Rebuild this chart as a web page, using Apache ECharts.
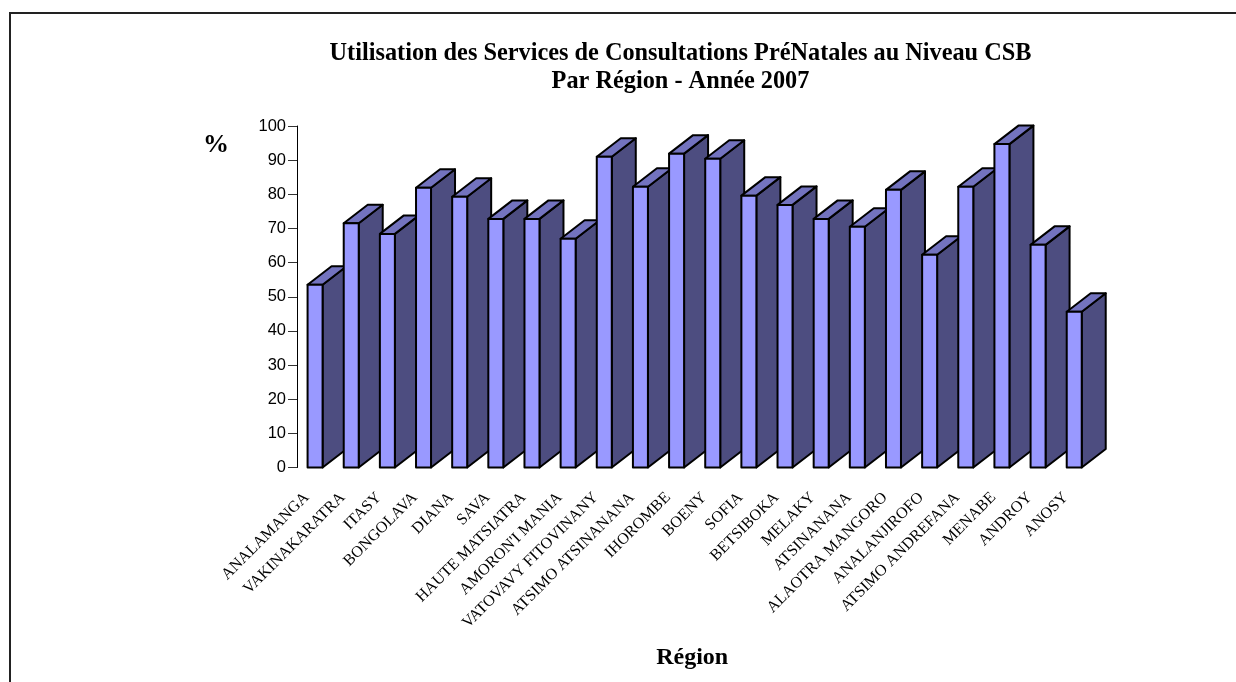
<!DOCTYPE html>
<html><head><meta charset="utf-8">
<style>html,body{margin:0;padding:0;background:#fff}#c{width:1236px;height:682px}</style>
<script src="https://cdn.jsdelivr.net/npm/echarts@6/dist/echarts.min.js"></script>
</head><body><div id="c"></div>
<script>
const regions = ["ANALAMANGA","VAKINAKARATRA","ITASY","BONGOLAVA","DIANA","SAVA","HAUTE MATSIATRA","AMORON'I MANIA","VATOVAVY FITOVINANY","ATSIMO ATSINANANA","IHOROMBE","BOENY","SOFIA","BETSIBOKA","MELAKY","ATSINANANA","ALAOTRA MANGORO","ANALANJIROFO","ATSIMO ANDREFANA","MENABE","ANDROY","ANOSY"];
const values = [53.5,71.5,68.4,81.9,79.3,72.8,72.8,67,91,82.2,91.9,90.4,79.6,76.9,72.8,70.5,81.3,62.3,82.2,94.7,65.2,45.6];
const serif = '"Liberation Serif","Times New Roman",serif';
const sans = '"Liberation Sans",Arial,sans-serif';
const depthX = 24, depthY = 18.5, barW = 15;
function renderBar(params, api){
  const p = api.coord([api.value(0), api.value(1)]);
  const base = api.coord([api.value(0), 0]);
  const l = p[0]-barW/2, r = p[0]+barW/2, t = p[1], b = base[1];
  const st = (fill)=>({fill, stroke:'#000', lineWidth:2, lineJoin:'round'});
  return {type:'group', children:[
    {type:'polygon', shape:{points:[[r,t],[r+depthX,t-depthY],[r+depthX,b-depthY],[r,b]]}, style:st('#4d4d80')},
    {type:'polygon', shape:{points:[[l,t],[l+depthX,t-depthY],[r+depthX,t-depthY],[r,t]]}, style:st('#7373bf')},
    {type:'rect', shape:{x:l,y:t,width:barW,height:b-t}, style:st('#9999ff')}
  ]};
}
const chart = echarts.init(document.getElementById('c'), null, {renderer:'canvas'});
chart.setOption({
  animation:false,
  backgroundColor:'#fff',
  graphic:[{type:'rect', shape:{x:10,y:13,width:1240,height:700}, style:{fill:'none',stroke:'#222',lineWidth:2}, silent:true}],
  title:[{
    text:'Utilisation des Services de Consultations PréNatales au Niveau CSB\nPar Région - Année 2007',
    left:675.5, top:35, textAlign:'center',
    textStyle:{fontFamily:serif,fontWeight:'bold',fontSize:24.3,lineHeight:28,color:'#000'}
  },{
    text:'%', left:211, top:127, textAlign:'center',
    textStyle:{fontFamily:serif,fontWeight:'bold',fontSize:26,color:'#000'}
  }],
  grid:{left:297,top:126,width:795.3,height:341.5,containLabel:false,outerBoundsMode:'none'},
  xAxis:{
    type:'category', data:regions,
    name:'Région', nameLocation:'middle', nameGap:178,
    nameTextStyle:{fontFamily:serif,fontWeight:'bold',fontSize:24,color:'#000',padding:[0,5,0,0]},
    axisLine:{show:false}, axisTick:{show:false},
    axisLabel:{rotate:45,interval:0,margin:19,padding:[0,12,0,0],fontFamily:serif,fontSize:16,color:'#000'}
  },
  yAxis:{
    type:'value', min:0, max:100, interval:10,
    axisLine:{show:true,lineStyle:{color:'#000',width:1}},
    axisTick:{show:true,length:9,lineStyle:{color:'#333',width:1}},
    splitLine:{show:false},
    axisLabel:{margin:11,fontFamily:sans,fontSize:16.5,color:'#000'}
  },
  series:[{type:'custom',renderItem:renderBar,data:regions.map((r,i)=>[i,values[i]]),encode:{x:0,y:1},clip:false}]
});
</script></body></html>
